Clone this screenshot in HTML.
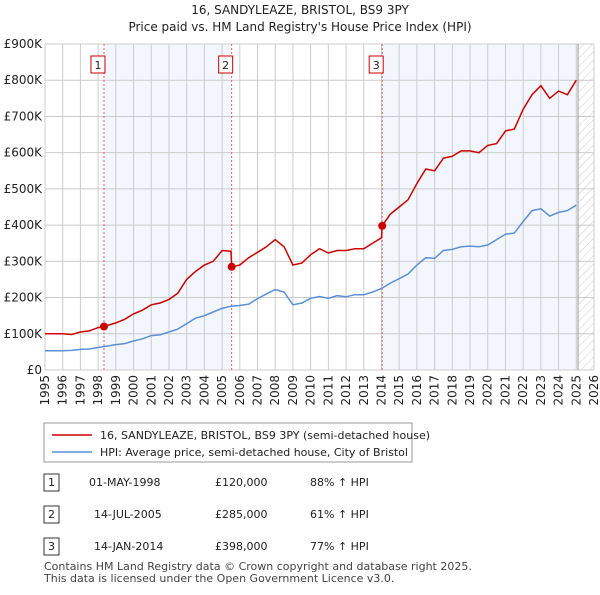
<!DOCTYPE html>
<html><head><meta charset="utf-8"><style>
body{margin:0;background:#fff;font-family:"Liberation Sans","DejaVu Sans",sans-serif;}
svg text{font-family:"DejaVu Sans","Liberation Sans",sans-serif;}
</style></head><body>
<svg id="c" width="600" height="590" viewBox="0 0 600 590" xmlns="http://www.w3.org/2000/svg">
<defs><pattern id="hatch" width="6" height="6" patternUnits="userSpaceOnUse" patternTransform="rotate(45)"><line x1="0" y1="0" x2="0" y2="6" stroke="#ccc" stroke-width="1"/></pattern></defs>
<text x="300" y="14" text-anchor="middle" font-size="12" fill="#222">16, SANDYLEAZE, BRISTOL, BS9 3PY</text>
<text x="300" y="31" text-anchor="middle" font-size="12" fill="#222">Price paid vs. HM Land Registry's House Price Index (HPI)</text>
<g id="plot"></g>
<g>
<rect x="44" y="423" width="368" height="39" fill="#fff" stroke="#999"/>
<line x1="52" y1="435" x2="92" y2="435" stroke="#cc0000" stroke-width="1.5"/>
<text x="100" y="439" font-size="11" fill="#222">16, SANDYLEAZE, BRISTOL, BS9 3PY (semi-detached house)</text>
<line x1="52" y1="452" x2="92" y2="452" stroke="#5b8fd6" stroke-width="1.5"/>
<text x="100" y="456" font-size="11" fill="#222">HPI: Average price, semi-detached house, City of Bristol</text>
</g>
<g font-size="11" fill="#222">
<rect x="44" y="474" width="15" height="17" fill="#fff" stroke="#333"/><text x="51.5" y="486" text-anchor="middle">1</text>
<text x="89" y="486">01-MAY-1998</text><text x="215" y="486">£120,000</text><text x="310" y="486">88% ↑ HPI</text>
<rect x="44" y="506" width="15" height="17" fill="#fff" stroke="#333"/><text x="51.5" y="518" text-anchor="middle">2</text>
<text x="94" y="518">14-JUL-2005</text><text x="215" y="518">£285,000</text><text x="310" y="518">61% ↑ HPI</text>
<rect x="44" y="538" width="15" height="17" fill="#fff" stroke="#333"/><text x="51.5" y="550" text-anchor="middle">3</text>
<text x="94" y="550">14-JAN-2014</text><text x="215" y="550">£398,000</text><text x="310" y="550">77% ↑ HPI</text>
</g>
<text x="44" y="570" font-size="11" fill="#444">Contains HM Land Registry data © Crown copyright and database right 2025.</text>
<text x="44" y="582" font-size="11" fill="#444">This data is licensed under the Open Government Licence v3.0.</text>
</svg>
<script>
const hpiYears=[1995,1995.5,1996,1996.5,1997,1997.5,1998,1998.5,1999,1999.5,2000,2000.5,2001,2001.5,2002,2002.5,2003,2003.5,2004,2004.5,2005,2005.5,2006,2006.5,2007,2007.5,2008,2008.5,2009,2009.5,2010,2010.5,2011,2011.5,2012,2012.5,2013,2013.5,2014,2014.5,2015,2015.5,2016,2016.5,2017,2017.5,2018,2018.5,2019,2019.5,2020,2020.5,2021,2021.5,2022,2022.5,2023,2023.5,2024,2024.5,2025];
const hpiValues=[53,53,53,54,57,58,62,66,70,73,80,86,95,97,105,113,128,143,150,160,170,176,178,182,197,210,222,215,180,185,198,203,198,205,202,208,208,215,225,240,252,265,290,310,308,330,333,340,342,340,345,360,375,378,410,440,445,425,435,440,455];
const priceYears=[1995,1996,1996.5,1997,1997.5,1998,1998.33,1999,1999.5,2000,2000.5,2001,2001.5,2002,2002.5,2003,2003.5,2004,2004.5,2005,2005.5,2005.54,2006,2006.5,2007,2007.5,2008,2008.5,2009,2009.5,2010,2010.5,2011,2011.5,2012,2012.5,2013,2013.5,2014,2014.04,2014.5,2015,2015.5,2016,2016.5,2017,2017.5,2018,2018.5,2019,2019.5,2020,2020.5,2021,2021.5,2022,2022.5,2023,2023.5,2024,2024.5,2025];
const priceValues=[100,100,98,105,108,117,120,130,140,155,165,180,185,195,212,250,272,290,300,330,328,285,290,310,325,340,360,340,290,295,318,335,323,330,330,335,335,350,365,398,430,450,470,515,555,550,585,590,605,605,600,620,625,660,665,720,760,785,750,770,760,800];
const saleYears=[1998.33,2005.54,2014.04];
const saleValues=[120,285,398];
const saleLabels=["1","2","3"];
const yTicks=[0,100,200,300,400,500,600,700,800,900];
const yTickLabels=["£0","£100K","£200K","£300K","£400K","£500K","£600K","£700K","£800K","£900K"];
const xTicks=[1995,1996,1997,1998,1999,2000,2001,2002,2003,2004,2005,2006,2007,2008,2009,2010,2011,2012,2013,2014,2015,2016,2017,2018,2019,2020,2021,2022,2023,2024,2025,2026];
const dataEnd=2025.1;
const X0=45,X1=594,Y0=370,Y1=44;
const xs=v=>X0+(v-1995)/(2026-1995)*(X1-X0);
const ys=v=>Y0-v/900*(Y0-Y1);
const NS="http://www.w3.org/2000/svg";
const g=document.getElementById('plot');
function mk(t,a){const e=document.createElementNS(NS,t);for(const k in a)e.setAttribute(k,a[k]);g.appendChild(e);return e;}
let e;
e=mk('rect',{x:xs(saleYears[0]),y:Y1,width:xs(saleYears[1])-xs(saleYears[0]),height:Y0-Y1,fill:'#eef3fc',opacity:0.7});


e=mk('rect',{x:xs(saleYears[2]),y:Y1,width:xs(dataEnd)-xs(saleYears[2]),height:Y0-Y1,fill:'#eef3fc',opacity:0.7});


e=mk('rect',{x:xs(dataEnd),y:Y1,width:X1-xs(dataEnd),height:Y0-Y1,fill:'url(#hatch)'});


yTicks.forEach((t,i)=>{
 e=mk('line',{x1:X0,x2:X1,y1:ys(t),y2:ys(t),stroke:'#cccccc','stroke-width':1});
 
 
 e=mk('text',{x:X0-3,y:ys(t)+4,'text-anchor':'end','font-size':12,fill:'#222'});e.textContent=yTickLabels[i];
 
 
});
xTicks.forEach(t=>{
 e=mk('line',{x1:xs(t),x2:xs(t),y1:Y1,y2:Y0,stroke:'#cccccc','stroke-width':1});
 
 
 e=mk('text',{x:0,y:0,'text-anchor':'end','font-size':12,fill:'#222',transform:`translate(${xs(t)+4},${Y0+5}) rotate(-90)`});e.textContent=t;
 
 
});
e=mk('line',{x1:xs(dataEnd),x2:xs(dataEnd),y1:Y1,y2:Y0,stroke:'#999','stroke-width':1});


function path(xa,ya){return xa.map((x,i)=>(i?'L':'M')+xs(x).toFixed(1)+','+ys(ya[i]).toFixed(1)).join('');}
saleYears.forEach((s,i)=>{
 e=mk('line',{x1:xs(s),x2:xs(s),y1:Y1,y2:Y0,stroke:'#e06060','stroke-width':1,'stroke-dasharray':'2,2'});
 
 
});
e=mk('path',{d:path(hpiYears,hpiValues),fill:'none',stroke:'#5b8fd6','stroke-width':1.5});


e=mk('path',{d:path(priceYears,priceValues),fill:'none',stroke:'#cc0000','stroke-width':1.5});


saleYears.forEach((s,i)=>{
 e=mk('circle',{cx:xs(s),cy:ys(saleValues[i]),r:4,fill:'#cc0000'});
 
 
 e=mk('rect',{x:xs(s)-13,y:56,width:14,height:17,fill:'#fff',stroke:'#cc0000'});
 
 
 e=mk('text',{x:xs(s)-6,y:69,'text-anchor':'middle','font-size':11,fill:'#222'});e.textContent=saleLabels[i];
 
 
});
</script>
</body></html>
